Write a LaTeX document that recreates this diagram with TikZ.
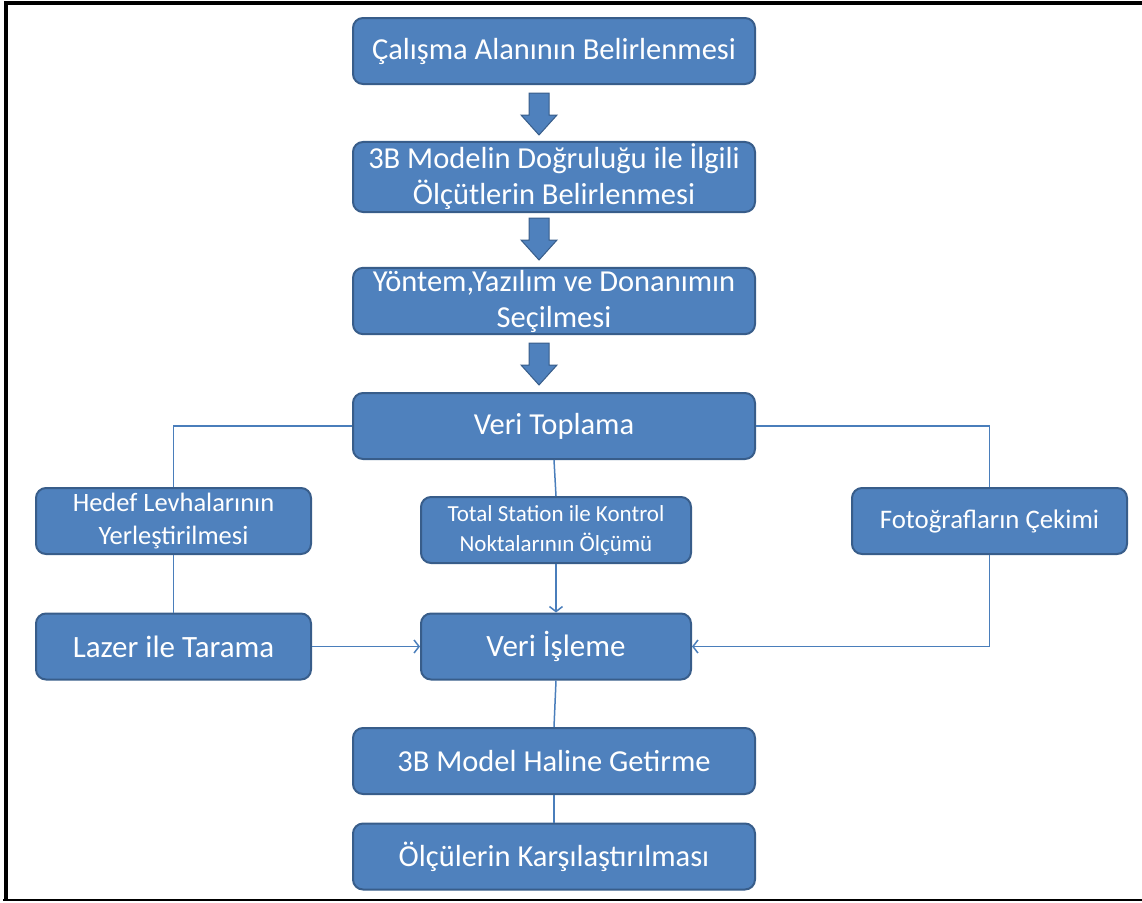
\documentclass[tikz,border=0pt]{standalone}
\usepackage{fontspec}
\setmainfont{Carlito}
\usetikzlibrary{arrows,arrows.meta,positioning,calc}
\definecolor{boxblue}{RGB}{79,129,189}
\definecolor{edgeblue}{RGB}{56,93,138}
\definecolor{linkblue}{RGB}{74,126,187}

\tikzset{
    stepbox/.style={draw=edgeblue, fill=boxblue, line width=2pt, rounded corners=10pt,
        text=white, align=center, inner sep=2pt},
    widebox/.style={stepbox, minimum width=402, minimum height=66, font=\fontsize{30.5}{36}\selectfont},
    sidebox/.style={stepbox, minimum width=275, minimum height=66},
    link/.style={draw=linkblue, line width=1.5pt},
    flowarrow/.style={fill=boxblue, draw=edgeblue, line width=1pt}
}

\begin{document}
\begin{tikzpicture}[x=1pt, y=-1pt, >={Straight Barb[length=5pt,width=13pt]}]
    \useasboundingbox (0,0) rectangle (1142,902);

    % Frame
    \draw[line width=4pt] (5.5,900) -- (5.5,3) -- (1142,3);
    \draw[line width=1.5pt] (3,900) -- (1142,900);

    % Main column
    \node[widebox] (alan) at (554,51) {Çalışma Alanının Belirlenmesi};
    \node[widebox] (olcut) at (554,177) {3B Modelin Doğruluğu ile İlgili\\Ölçütlerin Belirlenmesi};
    \node[widebox] (yontem) at (554,301) {Yöntem,Yazılım ve Donanımın\\Seçilmesi};
    \node[widebox] (toplama) at (554,426) {Veri Toplama};

    % Block arrows
    \foreach \t in {93,218,343}
        \draw[flowarrow] (529,\t) -- (549,\t) -- (549,\t+22) -- (557,\t+22)
            -- (539,\t+42) -- (521,\t+22) -- (529,\t+22) -- cycle;

    % Branches
    \node[sidebox, font=\fontsize{26.5}{33}\selectfont] (hedef) at (173.5,521) {Hedef Levhalarının\\Yerleştirilmesi};
    \node[stepbox, minimum width=270, minimum height=66, font=\fontsize{23}{30}\selectfont] (total) at (556,530) {Total Station ile Kontrol\\Noktalarının Ölçümü};
    \node[sidebox, font=\fontsize{26.8}{30}\selectfont] (foto) at (989.5,521) {Fotoğrafların Çekimi};
    \node[sidebox, font=\fontsize{31}{36}\selectfont] (lazer) at (173.5,646.5) {Lazer ile Tarama};
    \node[stepbox, minimum width=270, minimum height=66, font=\fontsize{31}{36}\selectfont] (isleme) at (556,646.5) {Veri İşleme};

    % Lower column
    \node[widebox] (model) at (554,761) {3B Model Haline Getirme};
    \node[widebox] (karsi) at (554,856.5) {Ölçülerin Karşılaştırılması};

    % Connectors
    \draw[link] (toplama.west) -| (hedef.north);
    \draw[link] (toplama.east) -| (foto.north);
    \draw[link] (toplama.south) -- (total.north);
    \draw[link] (hedef.south) -- (lazer.north);
    \draw[link, ->] (total.south) -- (isleme.north);
    \draw[link, ->] (lazer.east) -- (isleme.west);
    \draw[link, ->] (foto.south) |- (isleme.east);
    \draw[link] (isleme.south) -- (model.north);
    \draw[link] (model.south) -- (karsi.north);
\end{tikzpicture}
\end{document}
